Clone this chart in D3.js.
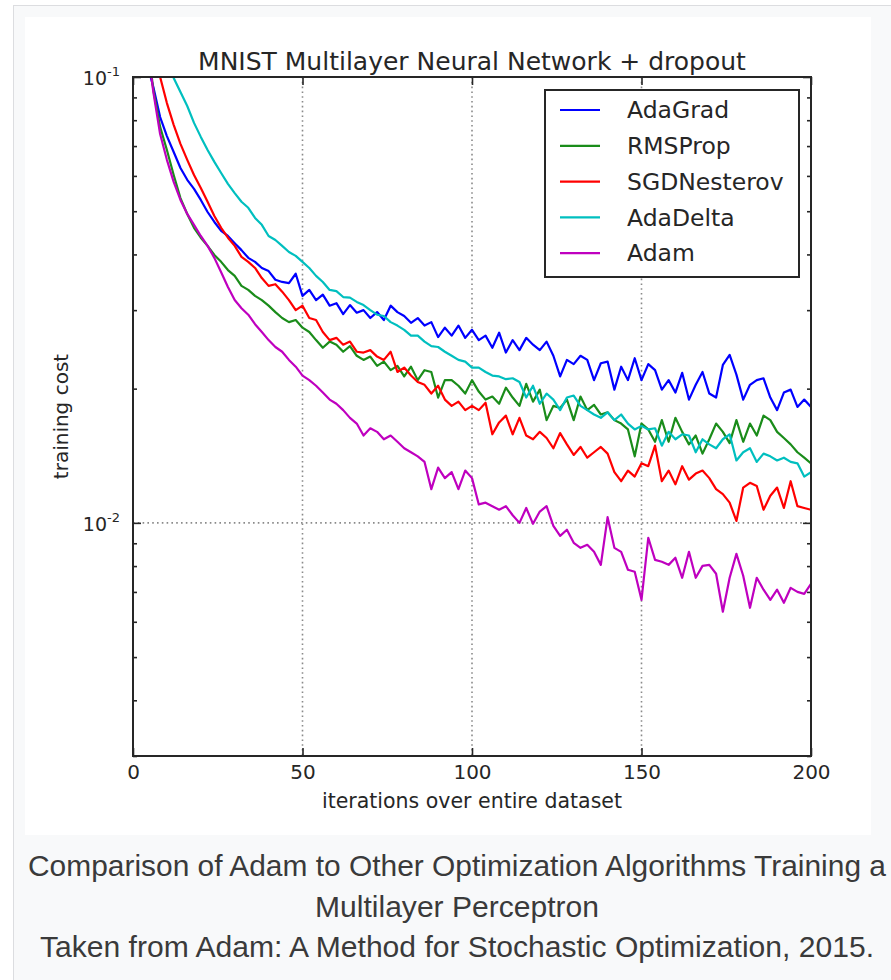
<!DOCTYPE html>
<html>
<head>
<meta charset="utf-8">
<script src="https://cdn.jsdelivr.net/npm/d3@7"></script>
<style>
  body { margin: 0; background: #fff; }
  svg { display: block; }
</style>
</head>
<body>
<div id="chart"></div>
<script>
// iterations over entire dataset (every 2nd epoch)
const iterations = d3.range(2, 201, 2);

const adagrad = [0.140, 0.108, 0.0950, 0.0813, 0.0737, 0.0679, 0.0625, 0.0588, 0.0561, 0.0530,
  0.0498, 0.0473, 0.0452, 0.0440, 0.0424, 0.0409, 0.0393, 0.0385, 0.0373, 0.0367,
  0.0351, 0.0347, 0.0345, 0.0362, 0.0323, 0.0333, 0.0316, 0.0325, 0.0307, 0.0311,
  0.0294, 0.0308, 0.0296, 0.0300, 0.0288, 0.0297, 0.0285, 0.0307, 0.0297, 0.0291,
  0.0281, 0.0288, 0.0277, 0.0282, 0.0261, 0.0274, 0.0263, 0.0277, 0.0260, 0.0271,
  0.0257, 0.0263, 0.0247, 0.0267, 0.0241, 0.0257, 0.0244, 0.0260, 0.0251, 0.0244,
  0.0255, 0.0237, 0.0213, 0.0232, 0.0227, 0.0237, 0.0232, 0.0209, 0.0228, 0.0230,
  0.0199, 0.0224, 0.0209, 0.0234, 0.0209, 0.0227, 0.0220, 0.0199, 0.0209, 0.0196,
  0.0217, 0.0189, 0.0204, 0.0218, 0.0195, 0.0191, 0.0226, 0.0238, 0.0215, 0.0189,
  0.0204, 0.0209, 0.0211, 0.0191, 0.0179, 0.0196, 0.0199, 0.0182, 0.0189, 0.0182];

const rmsprop = [0.190, 0.125, 0.0935, 0.0773, 0.0686, 0.0603, 0.0535, 0.0493, 0.0459, 0.0436,
  0.0418, 0.0399, 0.0385, 0.0369, 0.0358, 0.0340, 0.0333, 0.0323, 0.0316, 0.0307,
  0.0297, 0.0288, 0.0282, 0.0285, 0.0274, 0.0268, 0.0257, 0.0247, 0.0255, 0.0251,
  0.0242, 0.0249, 0.0237, 0.0232, 0.0236, 0.0225, 0.0230, 0.0220, 0.0225, 0.0213,
  0.0224, 0.0209, 0.0220, 0.0218, 0.0191, 0.0209, 0.0209, 0.0203, 0.0195, 0.0209,
  0.0197, 0.0189, 0.0192, 0.0185, 0.0201, 0.0191, 0.0183, 0.0205, 0.0187, 0.0199,
  0.0170, 0.0183, 0.0181, 0.0189, 0.0170, 0.0192, 0.0179, 0.0184, 0.0175, 0.0177,
  0.0170, 0.0167, 0.0162, 0.0141, 0.0167, 0.0162, 0.0152, 0.0170, 0.0152, 0.0172,
  0.0160, 0.0150, 0.0157, 0.0143, 0.0154, 0.0167, 0.0160, 0.0151, 0.0170, 0.0152,
  0.0167, 0.0157, 0.0174, 0.0170, 0.0160, 0.0155, 0.0150, 0.0144, 0.0140, 0.0136];

const sgdnesterov = [0.210, 0.160, 0.125, 0.100, 0.0874, 0.0781, 0.0708, 0.0652, 0.0603, 0.0564,
  0.0525, 0.0488, 0.0459, 0.0436, 0.0418, 0.0395, 0.0385, 0.0373, 0.0354, 0.0340,
  0.0343, 0.0330, 0.0316, 0.0300, 0.0307, 0.0288, 0.0285, 0.0268, 0.0257, 0.0260,
  0.0251, 0.0255, 0.0242, 0.0241, 0.0244, 0.0236, 0.0232, 0.0242, 0.0218, 0.0223,
  0.0214, 0.0207, 0.0204, 0.0195, 0.0203, 0.0189, 0.0183, 0.0187, 0.0179, 0.0183,
  0.0179, 0.0186, 0.0158, 0.0168, 0.0174, 0.0158, 0.0172, 0.0157, 0.0154, 0.0160,
  0.0155, 0.0147, 0.0159, 0.0150, 0.0142, 0.0148, 0.0140, 0.0144, 0.0148, 0.0143,
  0.0130, 0.0124, 0.0131, 0.0127, 0.0136, 0.0134, 0.0149, 0.0124, 0.0131, 0.0122,
  0.0134, 0.0125, 0.0129, 0.0131, 0.0126, 0.0119, 0.0116, 0.0111, 0.0101, 0.0120,
  0.0123, 0.0121, 0.0107, 0.0115, 0.0120, 0.0108, 0.0124, 0.0109, 0.0108, 0.0107];

const adadelta = [0.190, 0.160, 0.140, 0.125, 0.110, 0.0995, 0.0925, 0.0861, 0.0789, 0.0734,
  0.0686, 0.0645, 0.0609, 0.0576, 0.0549, 0.0525, 0.0509, 0.0483, 0.0466, 0.0440,
  0.0431, 0.0418, 0.0405, 0.0397, 0.0385, 0.0373, 0.0358, 0.0347, 0.0333, 0.0331,
  0.0321, 0.0320, 0.0313, 0.0308, 0.0300, 0.0293, 0.0291, 0.0282, 0.0277, 0.0271,
  0.0263, 0.0263, 0.0255, 0.0249, 0.0248, 0.0242, 0.0237, 0.0232, 0.0230, 0.0223,
  0.0223, 0.0218, 0.0214, 0.0213, 0.0210, 0.0211, 0.0207, 0.0191, 0.0203, 0.0185,
  0.0195, 0.0189, 0.0179, 0.0191, 0.0193, 0.0183, 0.0179, 0.0175, 0.0172, 0.0177,
  0.0170, 0.0175, 0.0167, 0.0162, 0.0165, 0.0162, 0.0163, 0.0149, 0.0160, 0.0154,
  0.0158, 0.0157, 0.0144, 0.0154, 0.0150, 0.0147, 0.0154, 0.0158, 0.0138, 0.0144,
  0.0147, 0.0137, 0.0143, 0.0141, 0.0138, 0.0140, 0.0137, 0.0136, 0.0127, 0.0130];

const adam = [0.190, 0.122, 0.0925, 0.0745, 0.0652, 0.0582, 0.0530, 0.0493, 0.0466, 0.0440,
  0.0418, 0.0393, 0.0365, 0.0338, 0.0316, 0.0303, 0.0293, 0.0279, 0.0268, 0.0257,
  0.0248, 0.0242, 0.0232, 0.0224, 0.0214, 0.0209, 0.0203, 0.0196, 0.0189, 0.0185,
  0.0179, 0.0172, 0.0167, 0.0157, 0.0163, 0.0160, 0.0154, 0.0157, 0.0152, 0.0147,
  0.0144, 0.0141, 0.0137, 0.0119, 0.0133, 0.0126, 0.0130, 0.0119, 0.0131, 0.0126,
  0.0110, 0.0111, 0.0109, 0.0107, 0.0109, 0.0104, 0.0100, 0.0108, 0.00995, 0.0106,
  0.0109, 0.00985, 0.00935, 0.00965, 0.00902, 0.00879, 0.00893, 0.00861, 0.00805, 0.0103,
  0.00879, 0.00861, 0.00785, 0.00777, 0.00672, 0.00926, 0.00826, 0.00818, 0.00805, 0.00835,
  0.00753, 0.00861, 0.00753, 0.00801, 0.00805, 0.00769, 0.00632, 0.00753, 0.00852, 0.00761,
  0.00645, 0.00753, 0.00708, 0.00672, 0.00708, 0.00662, 0.00715, 0.00700, 0.00693, 0.00730];

const seriesNames = ["AdaGrad", "RMSProp", "SGDNesterov", "AdaDelta", "Adam"];
const seriesColors = ["#0000ff", "#1a8c1a", "#ff0000", "#00bfbf", "#bf00bf"];
const seriesValues = [adagrad, rmsprop, sgdnesterov, adadelta, adam];

const xTicks = [0, 50, 100, 150, 200];
const yMajor = [0.1, 0.01];
const yMajorExp = ["-1", "-2"];

const W = 891, H = 980;
const plot = { left: 133, right: 811, top: 77, bottom: 756 };
const font = "'DejaVu Sans', sans-serif";
const ink = "#262626";

const svg = d3.select("#chart").append("svg")
  .attr("width", W).attr("height", H);

// page frame: thumbnail box with caption
svg.append("rect").attr("width", W).attr("height", H).attr("fill", "#fff");
svg.append("rect")
  .attr("x", 13.5).attr("y", 5.5).attr("width", W).attr("height", H)
  .attr("fill", "#f8f9fa").attr("stroke", "#dcdde0");
svg.append("rect")
  .attr("x", 25).attr("y", 17).attr("width", 846).attr("height", 818)
  .attr("fill", "#fff");

const x = d3.scaleLinear().domain([0, 200]).range([plot.left, plot.right]);
const y = d3.scaleLog().domain([0.003, 0.1]).range([plot.bottom, plot.top]);

svg.append("defs").append("clipPath").attr("id", "clip")
  .append("rect")
  .attr("x", plot.left).attr("y", plot.top)
  .attr("width", plot.right - plot.left).attr("height", plot.bottom - plot.top);

// grid (dotted)
const grid = svg.append("g").attr("stroke", "#8a8a8a").attr("stroke-width", 1.6)
  .attr("stroke-dasharray", "1.6,3.2");
grid.selectAll("line.vx").data(xTicks.slice(1, -1)).join("line")
  .attr("x1", d => x(d)).attr("x2", d => x(d))
  .attr("y1", plot.top).attr("y2", plot.bottom);
grid.append("line")
  .attr("x1", plot.left).attr("x2", plot.right)
  .attr("y1", y(0.01)).attr("y2", y(0.01));

// series
const line = d3.line()
  .x((d, i) => x(iterations[i]))
  .y(d => y(d));

const lines = svg.append("g").attr("clip-path", "url(#clip)");
seriesValues.forEach((vals, k) => {
  lines.append("path")
    .datum(vals)
    .attr("fill", "none")
    .attr("stroke", seriesColors[k])
    .attr("stroke-width", 2.2)
    .attr("stroke-linejoin", "round")
    .attr("d", line);
});

// axes with inward ticks
const axisStyle = g => {
  g.select(".domain").remove();
  g.selectAll(".tick line").attr("stroke", ink).attr("stroke-width", 1.6);
  g.selectAll("text").attr("fill", ink).attr("font-family", font).attr("font-size", 20);
};

svg.append("g").attr("transform", `translate(0,${plot.bottom})`)
  .call(d3.axisBottom(x).tickValues(xTicks).tickSize(-8).tickPadding(9))
  .call(axisStyle);
svg.append("g").attr("transform", `translate(0,${plot.top})`)
  .call(d3.axisTop(x).tickValues(xTicks).tickSize(-8).tickFormat(""))
  .call(axisStyle);

const minor = y.ticks().filter(v => !yMajor.some(m => Math.abs(m - v) < 1e-9));
svg.append("g").attr("transform", `translate(${plot.left},0)`)
  .call(d3.axisLeft(y).tickValues(yMajor).tickSize(-8).tickFormat(""))
  .call(axisStyle);
svg.append("g").attr("transform", `translate(${plot.left},0)`)
  .call(d3.axisLeft(y).tickValues(minor).tickSize(-4).tickFormat(""))
  .call(axisStyle);
svg.append("g").attr("transform", `translate(${plot.right},0)`)
  .call(d3.axisRight(y).tickValues(yMajor).tickSize(-8).tickFormat(""))
  .call(axisStyle);
svg.append("g").attr("transform", `translate(${plot.right},0)`)
  .call(d3.axisRight(y).tickValues(minor).tickSize(-4).tickFormat(""))
  .call(axisStyle);

// y tick labels 10^-1, 10^-2
yMajor.forEach((v, i) => {
  const t = svg.append("text")
    .attr("x", plot.left - 13).attr("y", y(v) + 8)
    .attr("text-anchor", "end")
    .attr("font-family", font).attr("font-size", 19).attr("fill", ink);
  t.append("tspan").text("10");
  t.append("tspan").attr("font-size", 13).attr("dy", -9).text(yMajorExp[i]);
});

// frame
svg.append("rect")
  .attr("x", plot.left).attr("y", plot.top)
  .attr("width", plot.right - plot.left).attr("height", plot.bottom - plot.top)
  .attr("fill", "none").attr("stroke", ink).attr("stroke-width", 2);

// title and axis labels
svg.append("text")
  .attr("x", (plot.left + plot.right) / 2).attr("y", 70)
  .attr("text-anchor", "middle")
  .attr("font-family", font).attr("font-size", 25).attr("fill", ink)
  .text("MNIST Multilayer Neural Network + dropout");

svg.append("text")
  .attr("x", (plot.left + plot.right) / 2).attr("y", 808)
  .attr("text-anchor", "middle")
  .attr("font-family", font).attr("font-size", 20.5).attr("fill", ink)
  .text("iterations over entire dataset");

svg.append("text")
  .attr("transform", `translate(68,${(plot.top + plot.bottom) / 2}) rotate(-90)`)
  .attr("text-anchor", "middle")
  .attr("font-family", font).attr("font-size", 20).attr("fill", ink)
  .text("training cost");

// legend
const leg = svg.append("g").attr("transform", "translate(545,90)");
leg.append("rect").attr("width", 254).attr("height", 187)
  .attr("fill", "#fff").attr("stroke", ink).attr("stroke-width", 2);
seriesNames.forEach((name, k) => {
  const row = leg.append("g").attr("transform", `translate(0,${20 + k * 35.8})`);
  row.append("line").attr("x1", 15).attr("x2", 55)
    .attr("stroke", seriesColors[k]).attr("stroke-width", 2.2);
  row.append("text").attr("x", 82).attr("dy", "0.35em")
    .attr("font-family", font).attr("font-size", 23.5).attr("fill", ink)
    .text(name);
});

// caption
const captionLines = [
  "Comparison of Adam to Other Optimization Algorithms Training a",
  "Multilayer Perceptron",
  "Taken from Adam: A Method for Stochastic Optimization, 2015."
];
const captionWidths = [858, 284, 834];
captionLines.forEach((s, i) => {
  svg.append("text")
    .attr("x", 457).attr("y", 876 + i * 40.5)
    .attr("text-anchor", "middle")
    .attr("font-family", "'Liberation Sans Narrow', 'Liberation Sans', Arial, sans-serif")
    .attr("font-size", 29).attr("fill", "#3a3a3a")
    .attr("textLength", captionWidths[i]).attr("lengthAdjust", "spacingAndGlyphs")
    .text(s);
});
</script>
</body>
</html>
